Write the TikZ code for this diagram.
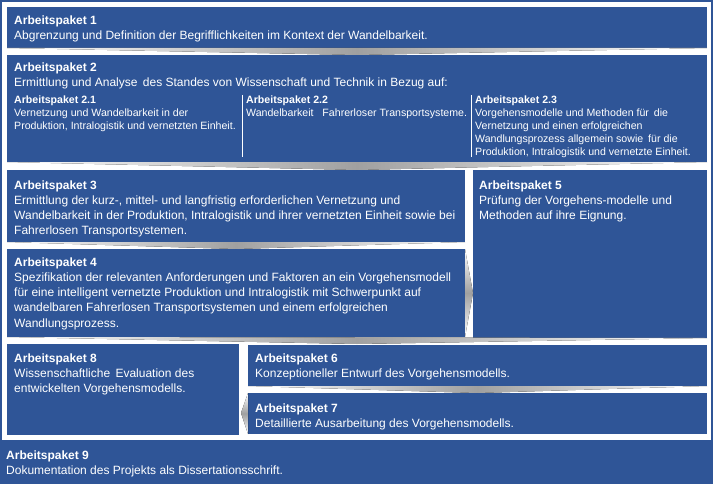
\documentclass[tikz,border=0pt]{standalone}
\usepackage{fontspec}
\setmainfont{Liberation Sans}
\definecolor{apblue}{RGB}{47,85,151}
\definecolor{chev}{RGB}{160,160,160}
\begin{document}
\begin{tikzpicture}[x=1pt,y=-1pt,
  box/.style={fill=apblue, draw=none, inner sep=0pt, outer sep=0pt, anchor=north west},
  txt/.style={anchor=north west, inner sep=0pt, text=white, align=left, font=\fontsize{12}{15.2}\selectfont},
  subtxt/.style={anchor=north west, inner sep=0pt, text=white, align=left, font=\fontsize{10.6}{13}\selectfont},
  hchev/.style={left color=white, right color=white, middle color=chev, draw=none},
  vchev/.style={top color=white, bottom color=white, middle color=chev, draw=none},
  divider/.style={white, line width=0.8pt},
]
\useasboundingbox (0,0) rectangle (714,484);
\draw[apblue, line width=2pt] (1,1) rectangle (712,441);

% boxes
\node[box, minimum width=700, minimum height=41] (ap1) at (7,7) {};
\node[box, minimum width=700, minimum height=107] (ap2) at (7,55) {};
\node[box, minimum width=458, minimum height=72] (ap3) at (7,170) {};
\node[box, minimum width=458, minimum height=88] (ap4) at (7,249) {};
\node[box, minimum width=234, minimum height=168] (ap5) at (473,170) {};
\node[box, minimum width=232, minimum height=91] (ap8) at (7,344) {};
\node[box, minimum width=459, minimum height=41] (ap6) at (248,345) {};
\node[box, minimum width=459, minimum height=41] (ap7) at (248,393) {};
\node[box, minimum width=713, minimum height=43] (ap9) at (0,441) {};

% chevrons
\fill[hchev] (ap1.south west) -- (ap1.south east) -- (357,55) -- cycle;
\fill[hchev] (ap2.south west) -- (ap2.south east) -- (357,170) -- cycle;
\fill[hchev] (ap3.south west) -- (ap3.south east) -- (236,249) -- cycle;
\fill[vchev] (ap4.north east) -- (ap4.south east) -- (473,293) -- cycle;
\fill[hchev] (ap4.south west) -- (ap5.south east) -- (357,344) -- cycle;
\fill[hchev] (ap6.south west) -- (ap6.south east) -- (477,393) -- cycle;
\fill[vchev] (ap7.north west) -- (ap7.south west) -- (241,413) -- cycle;

% dividers in AP2
\draw[divider] (242,95) -- (242,157);
\draw[divider] (471,95) -- (471,157);

% texts
\node[txt] (t1) at (14,15.5) {\textbf{Arbeitspaket 1}\\Abgrenzung und Definition der Begrifflichkeiten im Kontext der Wandelbarkeit.};
\node[txt] (t2) at (14,62.5) {\textbf{Arbeitspaket 2}\\Ermittlung und Analyse\hspace{2pt} des Standes von Wissenschaft und Technik in Bezug auf:};
\node[subtxt] (t21) at (14,95.5) {\textbf{Arbeitspaket 2.1}\\Vernetzung und Wandelbarkeit in der\\Produktion, Intralogistik und vernetzten Einheit.};
\node[subtxt] (t22) at (246,95.5) {\textbf{Arbeitspaket 2.2}\\Wandelbarkeit\hspace{6pt} Fahrerloser Transportsysteme.};
\node[subtxt] (t23) at (475,95.5) {\textbf{Arbeitspaket 2.3}\\Vorgehensmodelle und Methoden für\hspace{2pt} die\\Vernetzung und einen erfolgreichen\\Wandlungsprozess allgemein sowie\hspace{2pt} für die\\Produktion, Intralogistik und vernetzte Einheit.};
\node[txt] (t3) at (14,180.5) {\textbf{Arbeitspaket 3}\\Ermittlung der kurz-, mittel- und langfristig erforderlichen Vernetzung und\\Wandelbarkeit in der Produktion, Intralogistik und ihrer vernetzten Einheit sowie bei\\Fahrerlosen Transportsystemen.};
\node[txt] (t4) at (14,257.5) {\textbf{Arbeitspaket 4}\\Spezifikation der relevanten Anforderungen und Faktoren an ein Vorgehensmodell\\für eine intelligent vernetzte Produktion und Intralogistik mit Schwerpunkt auf\\wandelbaren Fahrerlosen Transportsystemen und einem erfolgreichen\\Wandlungsprozess.};
\node[txt] (t5) at (479,180.5) {\textbf{Arbeitspaket 5}\\Prüfung der Vorgehens-modelle und\\Methoden auf ihre Eignung.};
\node[txt] (t8) at (14,353.5) {\textbf{Arbeitspaket 8}\\Wissenschaftliche\hspace{2pt} Evaluation des\\entwickelten Vorgehensmodells.};
\node[txt] (t6) at (255,353.5) {\textbf{Arbeitspaket 6}\\Konzeptioneller Entwurf des Vorgehensmodells.};
\node[txt] (t7) at (255,403.5) {\textbf{Arbeitspaket 7}\\Detaillierte Ausarbeitung des Vorgehensmodells.};
\node[txt] (t9) at (6,450.5) {\textbf{Arbeitspaket 9}\\Dokumentation des Projekts als Dissertationsschrift.};
\end{tikzpicture}
\end{document}
